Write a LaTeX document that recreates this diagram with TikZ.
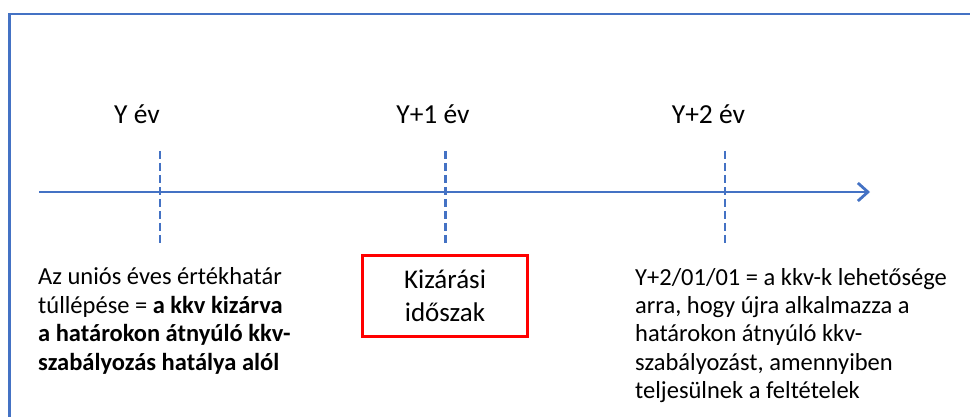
\documentclass[tikz,border=0pt]{standalone}
\usepackage{fontspec}
\setmainfont{Carlito}
\usetikzlibrary{arrows.meta}
\definecolor{tlblue}{HTML}{4472C4}
\definecolor{boxred}{HTML}{FF0000}
\begin{document}
\begin{tikzpicture}[x=1pt,y=-1pt,
  frameline/.style={draw=tlblue,line width=2.8pt},
  axisline/.style={draw=tlblue,line width=2.8pt,-{Straight Barb[length=10pt,width=18pt]}},
  tickline/.style={draw=tlblue,line width=2.8pt,dash pattern=on 8pt off 4pt},
  yearlabel/.style={inner sep=0pt,anchor=base,font=\fontsize{27.5}{33}\selectfont},
  bodyline/.style={inner sep=0pt,anchor=base west,font=\fontsize{24.5}{29}\selectfont},
  boxtext/.style={inner sep=0pt,anchor=base,font=\fontsize{27}{33}\selectfont},
  redbox/.style={draw=boxred,line width=3pt}
]
\useasboundingbox (0,0) rectangle (970,417);
% frame (cut off on right and bottom)
\coordinate (fbl) at (9.5,420);
\coordinate (ftl) at (9.5,14);
\coordinate (ftr) at (972,14);
\draw[frameline] (fbl) -- (ftl) -- (ftr);
% timeline
\coordinate (axs) at (39,192);
\coordinate (axe) at (870,192);
\draw[axisline] (axs) -- (axe);
% ticks
\coordinate (t1a) at (160,151); \coordinate (t1b) at (160,244);
\coordinate (t2a) at (445.5,151); \coordinate (t2b) at (445.5,244);
\coordinate (t3a) at (725,151); \coordinate (t3b) at (725,244);
\draw[tickline] (t1a) -- (t1b);
\draw[tickline] (t2a) -- (t2b);
\draw[tickline] (t3a) -- (t3b);
% year labels
\node[yearlabel] (y0) at (137,123.3) {Y év};
\node[yearlabel] (y1) at (433,123.3) {Y+1 év};
\node[yearlabel] (y2) at (708.5,123.3) {Y+2 év};
% red box
\node[redbox,minimum width=165pt,minimum height=81pt,inner sep=0pt] (kbox) at (445.2,296.2) {};
\node[boxtext] (k1) at (445,288.3) {Kizárási};
\node[boxtext] (k2) at (445,321.7) {időszak};
% left text
\node[bodyline] (a1) at (38,284.5) {Az uniós éves értékhatár};
\node[bodyline] (a2) at (38,313) {túllépése = \textbf{a kkv kizárva}};
\node[bodyline] (a3) at (38,341.5) {\textbf{a határokon átnyúló kkv-}};
\node[bodyline] (a4) at (38,370) {\textbf{szabályozás hatálya alól}};
% right text
\node[bodyline] (b1) at (635,285) {Y+2/01/01 = a kkv-k lehetősége};
\node[bodyline] (b2) at (635,313.3) {arra, hogy újra alkalmazza a};
\node[bodyline] (b3) at (635,341.7) {határokon átnyúló kkv-};
\node[bodyline] (b4) at (635,370) {szabályozást, amennyiben};
\node[bodyline] (b5) at (635,398.3) {teljesülnek a feltételek};
\end{tikzpicture}
\end{document}
